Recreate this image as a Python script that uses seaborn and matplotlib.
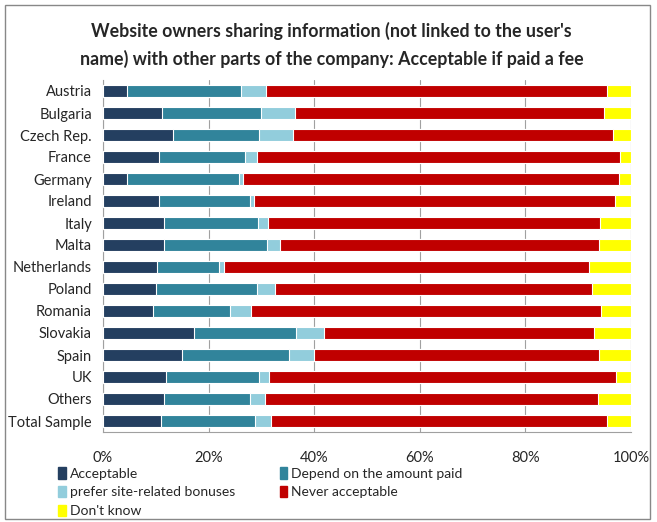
import matplotlib
matplotlib.use("Agg")
import matplotlib.pyplot as plt
import seaborn as sns
import pandas as pd
import numpy as np

countries = ["Austria", "Bulgaria", "Czech Rep.", "France", "Germany", "Ireland",
             "Italy", "Malta", "Netherlands", "Poland", "Romania", "Slovakia",
             "Spain", "UK", "Others", "Total Sample"]

acceptable = [4.5, 11.2, 13.2, 10.6, 4.5, 10.7, 11.6, 11.6, 10.3, 10.0, 9.5, 17.3, 15.0, 11.9, 11.6, 11.0]
depend     = [21.6, 18.8, 16.4, 16.3, 21.2, 17.1, 17.7, 19.4, 11.6, 19.1, 14.6, 19.3, 20.3, 17.7, 16.2, 17.7]
bonuses    = [4.7, 6.4, 6.4, 2.2, 0.8, 0.8, 2.0, 2.5, 1.1, 3.4, 3.9, 5.3, 4.6, 1.9, 2.8, 3.2]
never      = [64.6, 58.5, 60.6, 68.9, 71.3, 68.3, 62.8, 60.4, 69.0, 60.2, 66.3, 51.0, 54.0, 65.7, 63.1, 63.5]
dont_know  = [4.6, 5.1, 3.4, 2.0, 2.2, 3.1, 5.9, 6.1, 8.0, 7.3, 5.7, 7.1, 6.1, 2.8, 6.3, 4.6]

series = ["Acceptable", "Depend on the amount paid", "prefer site-related bonuses",
          "Never acceptable", "Don't know"]
colors = ["#243F60", "#31849B", "#92CDDC", "#C00000", "#FFFF00"]

df = pd.DataFrame({"country": countries, series[0]: acceptable, series[1]: depend,
                   series[2]: bonuses, series[3]: never, series[4]: dont_know})
# normalise rows to 100%
vals = df[series].to_numpy()
vals = vals / vals.sum(axis=1, keepdims=True) * 100
cum = np.cumsum(vals, axis=1)

sns.set_style("white")
plt.rcParams['font.family'] = ['Lato', 'DejaVu Sans']

fig = plt.figure(figsize=(6.57, 5.22), dpi=100)
ax = fig.add_axes([103 / 657, 1 - 432 / 522, 528 / 657, 352 / 522])

for i in range(len(series) - 1, -1, -1):
    sns.barplot(x=cum[:, i], y=df["country"], color=colors[i], orient="h", saturation=1,
                width=0.58, edgecolor="white", linewidth=0.8, ax=ax, zorder=3)

ax.set_xlim(0, 100)
ax.set_xticks([0, 20, 40, 60, 80, 100])
ax.set_xticklabels([f"{t}%" for t in [0, 20, 40, 60, 80, 100]], fontsize=10.5)
ax.tick_params(axis="x", length=0, pad=14)
ax.tick_params(axis="y", length=0, pad=8, labelsize=10.5)
ax.set_xlabel("")
ax.set_ylabel("")
ax.grid(axis="x", color="#A0A0A0", linewidth=0.8, zorder=0)
for s in ["top", "right"]:
    ax.spines[s].set_visible(False)
ax.spines["left"].set_color("#A0A0A0")
ax.spines["bottom"].set_color("#A0A0A0")

handles = [plt.Rectangle((0, 0), 1, 1, color=c) for c in colors]
order = [0, 2, 4, 1, 3]
fig.legend([handles[k] for k in order], [series[k] for k in order], loc="upper left",
           bbox_to_anchor=(58 / 657, 1 - 467 / 522),
           ncol=2, frameon=False, fontsize=10, handlelength=0.55, handleheight=0.9,
           handletextpad=0.3, columnspacing=3.2, labelspacing=0.45, borderaxespad=0,
           borderpad=0)

fig.text(0.505, 1 - 45 / 522,
         "Website owners sharing information (not linked to the user's\n"
         "name) with other parts of the company: Acceptable if paid a fee",
         ha="center", va="center", fontsize=12.8, fontweight="bold", linespacing=1.65)

fig.patches.append(plt.Rectangle((5 / 657, 3 / 522), 645 / 657, 514 / 522, fill=False,
                                 edgecolor="#888888", linewidth=1, transform=fig.transFigure))

fig.savefig("out.png", dpi=100)
